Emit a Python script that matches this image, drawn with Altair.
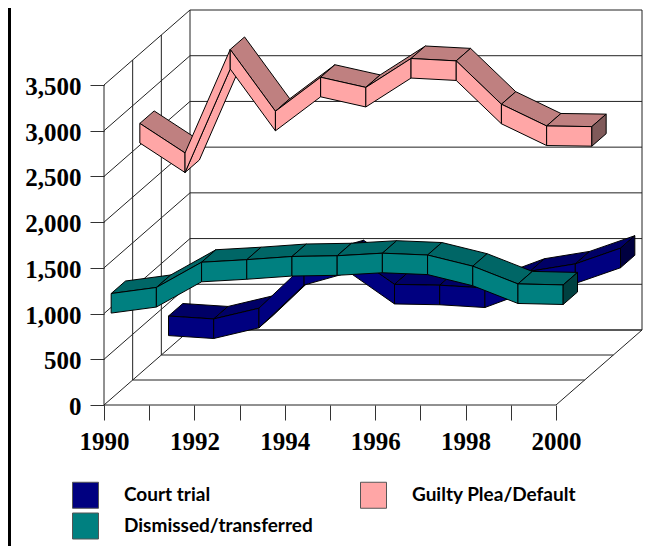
import altair as alt
import pandas as pd

YEARS = [1990, 1991, 1992, 1993, 1994, 1995, 1996, 1997, 1998, 1999, 2000]
GUILTY = [2631, 2308, 3440, 2764, 3136, 3025, 3341, 3315, 2841, 2603, 2596]
DISMISSED = [1044, 1110, 1386, 1414, 1449, 1457, 1485, 1465, 1343, 1149, 1138]
COURT = [251, 219, 336, 804, 943, 597, 588, 558, 741, 821, 993]
Y_TICKS = [0, 500, 1000, 1500, 2000, 2500, 3000, 3500]
SERIES_NAMES = ["Court trial", "Dismissed/transferred", "Guilty Plea/Default"]
SERIES_COLORS = ["#000080", "#008080", "#FFA6A6"]

PX_YEAR = 45.2
PX_UNIT = 320 / 3500
DEPTH_X = 86 / PX_YEAR      # full depth, in years
DEPTH_V = 75 / PX_UNIT      # full depth, in value units
HALF = 107                  # half ribbon thickness, value units

W, H = 655, 538
X0, Y0 = 96, 397
x_scale = alt.Scale(domain=[1990 - X0 / PX_YEAR, 1990 + (W - X0) / PX_YEAR], nice=False, zero=False)
y_scale = alt.Scale(domain=[-(H - Y0) / PX_UNIT, Y0 / PX_UNIT], nice=False, zero=False)

def proj(year, value, depth):
    return year + depth * DEPTH_X, value + depth * DEPTH_V

rows = []
pid = 0
def poly(points, fill):
    global pid
    pid += 1
    pts = points + [points[0]]
    for i, (x, v) in enumerate(pts):
        rows.append({"x": x, "y": v, "i": i, "poly": pid, "fill": fill})

def ribbon(vals, slot, front, top, cap):
    d0, d1 = (slot + 0.25) / 3, (slot + 0.75) / 3
    for k in range(len(YEARS) - 1):
        a, b = YEARS[k], YEARS[k + 1]
        va, vb = vals[k], vals[k + 1]
        if vb - va > DEPTH_V / DEPTH_X:
            poly([proj(a, va - HALF, d0), proj(b, vb - HALF, d0),
                  proj(b, vb - HALF, d1), proj(a, va - HALF, d1)], front)
        else:
            poly([proj(a, va + HALF, d0), proj(b, vb + HALF, d0),
                  proj(b, vb + HALF, d1), proj(a, va + HALF, d1)], top)
        poly([proj(a, va + HALF, d0), proj(b, vb + HALF, d0),
              proj(b, vb - HALF, d0), proj(a, va - HALF, d0)], front)
    e, v = YEARS[-1], vals[-1]
    poly([proj(e, v + HALF, d0), proj(e, v + HALF, d1),
          proj(e, v - HALF, d1), proj(e, v - HALF, d0)], cap)

ribbon(COURT, 2, "#000080", "#000066", "#000040")
ribbon(GUILTY, 1, "#FFA6A6", "#BF8080", "#805A5A")
ribbon(DISMISSED, 0, "#008080", "#006666", "#004040")
faces = pd.DataFrame(rows)

grid = []
gid = 0
def seg(p, q):
    global gid
    gid += 1
    grid.append({"x": p[0], "y": p[1], "i": 0, "g": gid})
    grid.append({"x": q[0], "y": q[1], "i": 1, "g": gid})

ymin, ymax, vmax = YEARS[0], YEARS[-1], Y_TICKS[-1]
for t in Y_TICKS:
    seg(proj(ymin, t, 0), proj(ymin, t, 1))
    seg(proj(ymin, t, 1), proj(ymax, t, 1))
for d in (1 / 3, 2 / 3, 1):
    seg(proj(ymin, 0, d), proj(ymin, vmax, d))
    seg(proj(ymin, 0, d), proj(ymax, 0, d))
seg(proj(ymin, 0, 0), proj(ymin, vmax, 0))
seg(proj(ymin, 0, 0), proj(ymax, 0, 0))
seg(proj(ymax, 0, 0), proj(ymax, 0, 1))
seg(proj(ymax, 0, 1), proj(ymax, vmax, 1))
grid_df = pd.DataFrame(grid)

FONT_NUM = "Liberation Serif"
x_axis = alt.Axis(values=YEARS, domain=False, grid=False, title=None, orient="bottom",
                  offset=-(H - Y0), tickSize=15, tickColor="#333", labelFont=FONT_NUM,
                  labelFontSize=25, labelFontWeight="bold", labelColor="black", labelPadding=9,
                  labelOverlap=False, labelFlush=False,
                  labelExpr="datum.value % 2 == 0 ? format(datum.value, 'd') : ''")
y_axis = alt.Axis(values=Y_TICKS, domain=False, grid=False, title=None, orient="left",
                  offset=-X0, tickSize=14, tickColor="#333", labelFont=FONT_NUM,
                  labelFontSize=25, labelFontWeight="bold", labelColor="black", labelPadding=9,
                  labelOffset=1.5, format=",d", labelOverlap=False)

grid_layer = alt.Chart(grid_df).mark_line(color="#222", strokeWidth=1).encode(
    x=alt.X("x:Q", scale=x_scale, axis=x_axis),
    y=alt.Y("y:Q", scale=y_scale, axis=y_axis),
    detail="g:N",
    order="i:Q",
)

face_layer = alt.Chart(faces).mark_line(filled=True, stroke="black", strokeWidth=1, strokeJoin="round").encode(
    x=alt.X("x:Q", scale=x_scale),
    y=alt.Y("y:Q", scale=y_scale),
    fill=alt.Fill("fill:N", scale=None),
    detail="poly:Q",
    order="i:Q",
)

legend_df = pd.DataFrame({"series": SERIES_NAMES, "x": [YEARS[0]] * 3, "y": [0] * 3})
legend_layer = alt.Chart(legend_df).mark_point(filled=True, opacity=0).encode(
    x=alt.X("x:Q", scale=x_scale),
    y=alt.Y("y:Q", scale=y_scale),
    size=alt.value(0),
    color=alt.Color(
        "series:N",
        scale=alt.Scale(domain=SERIES_NAMES, range=SERIES_COLORS),
        legend=alt.Legend(orient="none", legendX=64, legendY=473.5, columns=2, title=None,
                          values=SERIES_NAMES,
                          symbolType="square", symbolSize=676, symbolOpacity=1,
                          symbolStrokeColor="#555", symbolStrokeWidth=1,
                          labelFont="Lato", labelFontSize=19, labelFontWeight="bold",
                          labelColor="black", labelOffset=25, labelLimit=300,
                          columnPadding=45, rowPadding=0, gridAlign="each"),
    ),
)

edge_df = pd.DataFrame({"x": [1], "y": [1]})
edge = alt.Chart(edge_df).mark_rule(color="black", strokeWidth=3).encode(
    x=alt.value(1.5), y=alt.value(0), y2=alt.value(H)
)

chart = alt.layer(edge, grid_layer, face_layer, legend_layer).properties(
    width=W, height=H, padding=0, autosize=alt.AutoSizeParams(type="none")
).configure_view(stroke=None)

chart.save("out.html", embed_options={"renderer": "svg", "actions": False})
